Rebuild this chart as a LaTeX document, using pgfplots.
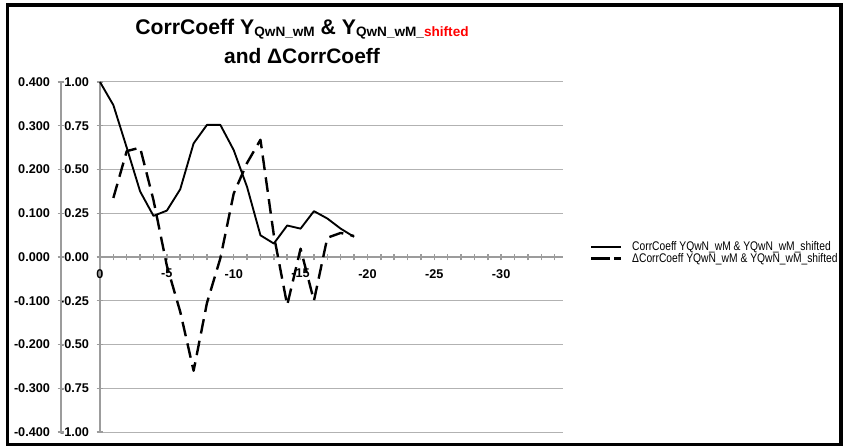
\documentclass[border=0pt]{standalone}
\usepackage{pgfplots}
\pgfplotsset{compat=1.18}
\usepackage{fontspec}
\setmainfont{Liberation Sans}
\usepackage{xcolor}
\usepackage{graphicx}
\definecolor{axgray}{HTML}{9C9C9C}
\definecolor{grgray}{HTML}{B2B2B2}
\newcommand{\subt}[1]{\raisebox{-1.5pt}{\fontsize{10.2}{12}\selectfont #1}}

% CorrCoeff (inner scale, -1..1)
\pgfplotstableread{
x y
0 1.000
-1 0.868
-2 0.625
-3 0.375
-4 0.235
-5 0.265
-6 0.387
-7 0.649
-8 0.755
-9 0.755
-10 0.611
-11 0.400
-12 0.124
-13 0.077
-14 0.180
-15 0.162
-16 0.262
-17 0.220
-18 0.162
-19 0.115
}\corr

% Delta CorrCoeff (outer scale, -0.4..0.4)
\pgfplotstableread{
x y
-1 0.135
-2 0.242
-3 0.250
-4 0.130
-5 -0.020
-6 -0.125
-7 -0.260
-8 -0.105
-9 -0.003
-10 0.145
-11 0.215
-12 0.268
-13 0.050
-14 -0.110
-15 0.019
-16 -0.100
-17 0.044
-18 0.055
-19 0.048
}\dcorr

\pgfplotsset{
  common/.style={
    at={(75pt,-324pt)}, anchor=south west, scale only axis,
    width=347pt, height=262.5pt,
    xmin=-34.6, xmax=0, x dir=reverse,
    tick align=center,
    major tick length=5pt, minor tick length=5pt,
    every tick/.style={draw=axgray, line width=1.1pt},
    axis line style={-, draw=axgray, line width=1.5pt},
    /pgf/number format/assume math mode=true,
    ticklabel style={font=\fontsize{9.5}{10}\selectfont\bfseries, inner sep=0pt},
    clip=false,
  }
}

\begin{document}
\begin{tikzpicture}
\begin{scope}[x=0.75pt,y=-0.75pt]
  \useasboundingbox (0,0) rectangle (845,448);
  \draw[black, line width=2.4pt] (7.5,5) rectangle (841,444.5);
  \node[anchor=base, font=\bfseries\fontsize{15.9}{18}\selectfont] at (302,35)
    {CorrCoeff Y\subt{QwN\_wM} \& Y\subt{QwN\_wM\_\textcolor{red}{shifted}}};
  \node[anchor=base, font=\bfseries\fontsize{15.7}{18}\selectfont] at (302,64)
    {and ΔCorrCoeff};
\end{scope}

\begin{axis}[common,
  ymin=-1, ymax=1,
  axis x line*=middle, axis y line*=left,
  xtick={0,-5,-10,-15,-20,-25,-30},
  minor xtick={-1,-2,-3,-4,-6,-7,-8,-9,-11,-12,-13,-14,-16,-17,-18,-19,-21,-22,-23,-24,-26,-27,-28,-29,-31,-32,-33,-34},
  hide obscured x ticks=false,
  ytick={-1,-0.75,-0.5,-0.25,0,0.25,0.5,0.75,1},
  ymajorgrids, grid style={draw=grgray, line width=0.75pt},
  yticklabel style={/pgf/number format/.cd, fixed, fixed zerofill, precision=2},
  xticklabel shift=6.5pt, yticklabel shift=5.6pt,
]
\addplot[black, line width=1.4pt, line join=round] table[x=x, y=y] {\corr};
\end{axis}

\begin{axis}[common,
  ymin=-0.4, ymax=0.4,
  hide x axis, axis y line*=left, axis y line shift=29.25pt,
  ytick={-0.4,-0.3,-0.2,-0.1,0,0.1,0.2,0.3,0.4},
  yticklabel style={/pgf/number format/.cd, fixed, fixed zerofill, precision=3},
  yticklabel shift=5.6pt,
  legend style={at={(1.059,0.513)}, anchor=west, draw=none, fill=none,
    inner sep=0pt, outer sep=0pt, row sep=0pt,
    font=\fontsize{9.4}{10}\selectfont,
    cells={anchor=west},
    nodes={inner sep=0.5pt, text height=6.8pt, text depth=0.9pt}},
  legend image code/.code={\draw[#1] (0pt,0pt) -- (22.5pt,0pt); \path (29.5pt,0pt);},
]
\addlegendimage{black, line width=1.4pt}
\addlegendentry{\scalebox{0.82}[1]{CorrCoeff YQwN\_wM \& YQwN\_wM\_shifted}}
\addlegendimage{legend image code/.code={\draw[black, line width=2pt] (0pt,0pt) -- (14.25pt,0pt); \draw[black, line width=2pt] (17.25pt,0pt) -- (22.5pt,0pt); \path (29.5pt,0pt);}}
\addlegendentry{\scalebox{0.82}[1]{ΔCorrCoeff YQwN\_wM \& YQwN\_wM\_shifted}}
\addplot[black, line width=1.8pt, line join=round, dash pattern=on 11pt off 5.5pt, forget plot]
  table[x=x, y=y] {\dcorr};
\end{axis}
\end{tikzpicture}
\end{document}
